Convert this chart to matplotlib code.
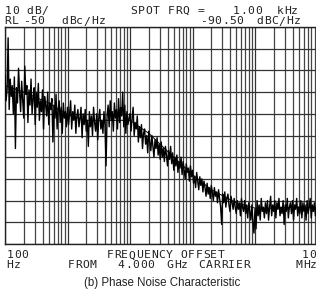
import numpy as np
import matplotlib
matplotlib.use("Agg")
import matplotlib.pyplot as plt


# data ##################
f_start = 100.0
f_stop = 1e7

# measured trace, dBc/Hz, one value per sweep point (60 points / decade)
trace_db = [
    # 100 Hz - 1 kHz
    -72, -84, -79, -55, -88, -74, -82, -77, -90, -73,
    -106, -78, -85, -69, -80, -89, -75, -84, -92, -68,
    -81, -77, -94, -79, -86, -74, -90, -83, -78, -95,
    -80, -87, -76, -93, -84, -89, -79, -97, -82, -86,
    -91, -80, -95, -85, -88, -83, -103, -86, -92, -81,
    -97, -88, -84, -94, -87, -99, -85, -92, -89, -96,
    # 1 kHz - 10 kHz
    -87, -95, -90, -84, -97, -89, -93, -86, -99, -91,
    -88, -96, -92, -87, -101, -90, -95, -88, -98, -93,
    -105, -89, -96, -91, -100, -87, -94, -98, -90, -102,
    -92, -88, -97, -93, -99, -89, -95, -114, -91, -86,
    -96, -84, -93, -89, -98, -85, -92, -88, -97, -83,
    -94, -87, -91, -80, -96, -86, -99, -89, -95, -92,
    # 10 kHz - 100 kHz
    -90, -98, -92, -87, -100, -94, -97, -91, -103, -96,
    -101, -95, -106, -99, -97, -104, -100, -108, -98, -103,
    -107, -100, -105, -110, -102, -106, -101, -109, -104, -111,
    -103, -110, -106, -112, -105, -109, -114, -107, -111, -105,
    -113, -108, -116, -110, -114, -109, -117, -112, -115, -110,
    -118, -112, -116, -120, -113, -117, -115, -121, -114, -119,
    # 100 kHz - 1 MHz
    -116, -122, -119, -124, -117, -121, -125, -119, -123, -120,
    -126, -121, -124, -128, -122, -127, -124, -129, -123, -126,
    -130, -124, -128, -126, -131, -125, -129, -133, -141, -127,
    -131, -126, -133, -129, -127, -132, -135, -128, -131, -134,
    -129, -133, -136, -130, -134, -131, -137, -129, -133, -135,
    -130, -136, -132, -138, -131, -135, -139, -132, -140, -145,
    # 1 MHz - 10 MHz
    -134, -143, -130, -137, -132, -139, -129, -135, -133, -138,
    -131, -136, -130, -139, -133, -128, -137, -132, -135, -130,
    -138, -131, -134, -129, -137, -133, -136, -130, -141, -132,
    -135, -129, -138, -133, -131, -136, -130, -139, -132, -134,
    -129, -137, -133, -136, -130, -138, -131, -135, -132, -139,
    -130, -136, -133, -129, -138, -132, -135, -131, -137, -133,
    -134,
]

# averaged trace
avg_freq = [100, 200, 500, 1e3, 2e3, 5e3, 1e4, 2e4, 5e4, 1e5,
            2e5, 5e5, 1e6, 2e6, 5e6, 1e7]
avg_db = [-77, -80, -85, -90.5, -93, -93, -93, -99, -110, -118,
          -125, -131, -133.5, -133.5, -133, -133.5]

ref_level = -50
db_per_div = 10
n_div = 10
#########################

W, H = 316, 291
fig = plt.figure(figsize=(W / 100, H / 100), dpi=100)
fig.patch.set_facecolor("white")


def px(x, y):
    return x / W, 1 - y / H


# plot area in pixels: left 5, top 27, decade 62.5 px, 217 px high
left, top = 5, 27
plot_w, plot_h = 5 * 62.5, 217
ax = fig.add_axes([left / W, 1 - (top + plot_h) / H, plot_w / W, plot_h / H])

n_pts = len(trace_db)
freq = np.logspace(np.log10(f_start), np.log10(f_stop), n_pts)

ax.semilogx(freq, trace_db, color="black", lw=1.0, zorder=3)
ax.semilogx(avg_freq, avg_db, color="black", lw=0.7, zorder=4)

ax.set_xlim(f_start, f_stop)
ax.set_ylim(ref_level - n_div * db_per_div, ref_level)
ax.set_yticks(np.arange(ref_level - n_div * db_per_div, ref_level + 1, db_per_div))

ax.grid(True, which="major", color="#333333", lw=0.9, zorder=1)
ax.grid(True, which="minor", axis="x", color="#444444", lw=0.9, zorder=1)
ax.tick_params(which="both", length=0, labelbottom=False, labelleft=False)
for s in ax.spines.values():
    s.set_color("#222222")
    s.set_linewidth(1.0)

# instrument-style text, one character per cell
adv = 7.4
mono_kw = dict(family="DejaVu Sans Mono", fontsize=8.2, color="#222222",
               ha="center", va="baseline")


def mono(x, y, s):
    for i, ch in enumerate(s):
        if ch == " ":
            continue
        fig.text(*px(x + 3 + i * adv, y), ch, **mono_kw)


mono(5, 14, "10 dB/")
mono(131, 14, "SPOT FRQ =")
mono(233, 14, "1.00")
mono(277, 14, "kHz")

mono(5, 24.5, "RL")
mono(23, 24.5, "-50")
mono(62, 24.5, "dBc/Hz")
mono(200, 24.5, "-90.50")
mono(257, 24.5, "dBC/Hz")

mono(7, 258.5, "100")
mono(107, 258.5, "FREQUENCY OFFSET")
mono(302, 258.5, "10")

mono(7, 268.5, "Hz")
mono(68, 268.5, "FROM")
mono(118, 268.5, "4.000")
mono(167, 268.5, "GHz")
mono(199, 268.5, "CARRIER")
mono(296, 268.5, "MHz")

fig.text(*px(162, 286), "(b) Phase Noise Characteristic",
         family="Liberation Sans", fontsize=8.3, color="#222222",
         ha="center", va="baseline")

fig.savefig("out.png", dpi=100)
